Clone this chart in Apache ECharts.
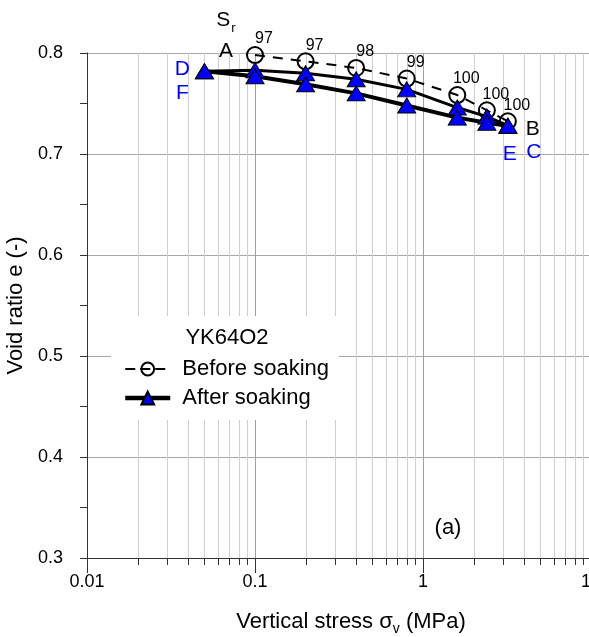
<!DOCTYPE html>
<html>
<head>
<meta charset="utf-8">
<script src="https://cdn.jsdelivr.net/npm/echarts@6/dist/echarts.min.js"></script>
<style>html,body{margin:0;padding:0;background:#fff}#c{width:589px;height:637px}</style>
</head>
<body>
<div id="c"></div>
<script>
// ---- data ----
const xTickLabels = ['0.01', '0.1', '1', '10'];
const xMinorValues = [0.02,0.03,0.04,0.05,0.06,0.07,0.08,0.09,0.2,0.3,0.4,0.5,0.6,0.7,0.8,0.9,2,3,4,5,6,7,8,9];
const yTickLabels = ['0.3', '0.4', '0.5', '0.6', '0.7', '0.8'];
const stressBefore = [0.1, 0.2, 0.4, 0.8, 1.6, 2.4, 3.2];
const eBefore = [0.798, 0.7918, 0.7852, 0.7747, 0.7584, 0.7433, 0.7324];
const srBefore = ['97', '97', '98', '99', '100', '100', '100'];
const stressAfterLoad = [0.05, 0.1, 0.2, 0.4, 0.8, 1.6, 2.4, 3.2];
const eAfterLoad = [0.782, 0.783, 0.780, 0.774, 0.764, 0.746, 0.737, 0.728];
const stressAfterUnload = [3.2, 2.4, 1.6, 0.8, 0.4, 0.2, 0.1, 0.05];
const eAfterUnload = [0.728, 0.731, 0.736, 0.748, 0.760, 0.769, 0.777, 0.782];

const FONT = 'Liberation Sans, Arial, sans-serif';
const yMin = +yTickLabels[0], yMax = +yTickLabels[yTickLabels.length - 1];
const xMin = +xTickLabels[0], xMax = +xTickLabels[xTickLabels.length - 1];
const zip = (a, b) => a.map((v, i) => [v, b[i]]);

function ann(text, coord, offset, color, extra) {
  return {
    coord: coord, symbol: 'circle', symbolSize: 1,
    itemStyle: { color: 'rgba(0,0,0,0)' },
    label: Object.assign({ show: true, position: 'inside', formatter: text, offset: offset,
      color: color, fontSize: 21, fontFamily: FONT }, extra || {})
  };
}

const chart = echarts.init(document.getElementById('c'), null, { renderer: 'canvas' });
chart.setOption({
  animation: false,
  backgroundColor: '#fff',
  textStyle: { fontFamily: FONT },
  grid: { left: 87, top: 53, right: -2, bottom: 79, containLabel: false, outerBoundsMode: 'none' },
  xAxis: {
    type: 'log', logBase: 10, min: xMin, max: xMax,
    axisLine: { lineStyle: { color: '#333', width: 1 } },
    axisTick: { length: 15, lineStyle: { color: '#333' } },
    axisLabel: { margin: 15, fontSize: 18, color: '#000', fontFamily: FONT,
      formatter: v => { const s = String(+(+v).toPrecision(6)); return xTickLabels.indexOf(s) >= 0 ? s : ''; } },
    splitLine: { show: true, lineStyle: { color: '#a0a0a0', width: 1 } },
    name: 'Vertical stress σ{sub|v} (MPa)', nameLocation: 'middle', nameGap: 50,
    nameTextStyle: { fontSize: 22, color: '#000', fontFamily: FONT, padding: [0, 0, 0, 24],
      rich: { sub: { fontSize: 14, color: '#000', fontFamily: FONT, padding: [14, 0, 0, 0] } } }
  },
  yAxis: {
    type: 'value', min: yMin, max: yMax, interval: 0.1,
    axisLine: { show: true, lineStyle: { color: '#333', width: 1 } },
    axisTick: { show: true, length: 7, lineStyle: { color: '#333' } },
    minorTick: { show: true, splitNumber: 2, length: 7, lineStyle: { color: '#333' } },
    axisLabel: { margin: 24, fontSize: 18, color: '#000', fontFamily: FONT,
      formatter: v => yTickLabels.find(t => Math.abs(+t - v) < 1e-6) || '' },
    splitLine: { show: true, lineStyle: { color: '#a8a8a8', width: 1 } },
    name: 'Void ratio e (-)', nameLocation: 'middle', nameGap: 58,
    nameTextStyle: { fontSize: 22, color: '#000', fontFamily: FONT }
  },
  legend: {
    orient: 'vertical', left: 111, top: 316, padding: [42, 10, 11, 12],
    itemWidth: 45, itemHeight: 16, itemGap: 7, backgroundColor: '#fff',
    textStyle: { fontSize: 22, color: '#000', lineHeight: 22, fontFamily: FONT, padding: [0, 0, 0, 7] },
    data: [
      { name: 'Before soaking', lineStyle: { type: [10, 5] } },
      { name: 'After soaking', lineStyle: { width: 4.5 } }
    ]
  },
  graphic: [
    { type: 'text', z: 100, x: 227, y: 338, style: { text: 'YK64O2', fontSize: 22, fontFamily: FONT, fill: '#000', align: 'center', verticalAlign: 'middle' } },
    { type: 'text', z: 100, x: 448, y: 528, style: { text: '(a)', fontSize: 22, fontFamily: FONT, fill: '#000', align: 'center', verticalAlign: 'middle' } }
  ],
  series: [
    {
      type: 'custom', silent: true, z: 1, clip: false,
      data: xMinorValues.map(v => [v, yMin]),
      renderItem: function (params, api) {
        const v = api.value(0);
        const b = api.coord([v, yMin]);
        const t = api.coord([v, yMax]);
        const x = Math.round(b[0]) + 0.5;
        return { type: 'group', children: [
          { type: 'line', shape: { x1: x, y1: b[1], x2: x, y2: t[1] }, style: { stroke: '#cfcfcf', lineWidth: 1 } },
          { type: 'line', shape: { x1: x, y1: b[1], x2: x, y2: b[1] + 7 }, style: { stroke: '#333', lineWidth: 1 } }
        ] };
      }
    },
    {
      name: 'Before soaking', type: 'line', z: 3,
      data: zip(stressBefore, eBefore),
      symbol: 'circle', symbolSize: 16,
      lineStyle: { color: '#000', width: 2, type: [10, 8] },
      itemStyle: { color: 'rgba(0,0,0,0)', borderColor: '#000', borderWidth: 2 },
      label: { show: true, position: 'inside', offset: [9, -16], fontSize: 16, color: '#000', fontFamily: FONT,
        formatter: p => srBefore[p.dataIndex] },
      markPoint: { silent: true, data: [
        ann('{s|S}{sub|r}', [stressBefore[0], eBefore[0]], [-29, -35], '#000',
          { rich: { s: { fontSize: 21, color: '#000', fontFamily: FONT }, sub: { fontSize: 13, color: '#000', fontFamily: FONT, padding: [16, 0, 0, 1] } } }),
        ann('A', [stressBefore[0], eBefore[0]], [-29, -4], '#000'),
        ann('B', [stressBefore[6], eBefore[6]], [25, 8], '#000')
      ] }
    },
    {
      name: 'After soaking', type: 'line', z: 4,
      data: zip(stressAfterLoad, eAfterLoad),
      symbol: 'triangle', symbolSize: [18, 15],
      lineStyle: { color: '#000', width: 3 },
      itemStyle: { color: '#0000ff', borderColor: '#000', borderWidth: 1 },
      markPoint: { silent: true, data: [
        ann('D', [stressAfterLoad[0], eAfterLoad[0]], [-22, -2], '#0000ff'),
        ann('F', [stressAfterLoad[0], eAfterLoad[0]], [-22, 22], '#0000ff'),
        ann('E', [stressAfterLoad[7], eAfterLoad[7]], [2, 28], '#0000ff'),
        ann('C', [stressAfterLoad[7], eAfterLoad[7]], [26, 26], '#0000ff')
      ] }
    },
    {
      name: 'After soaking', type: 'line', z: 4,
      data: zip(stressAfterUnload, eAfterUnload),
      symbol: 'triangle', symbolSize: [18, 15],
      lineStyle: { color: '#000', width: 4 },
      itemStyle: { color: '#0000ff', borderColor: '#000', borderWidth: 1 }
    }
  ]
});
</script>
</body>
</html>
